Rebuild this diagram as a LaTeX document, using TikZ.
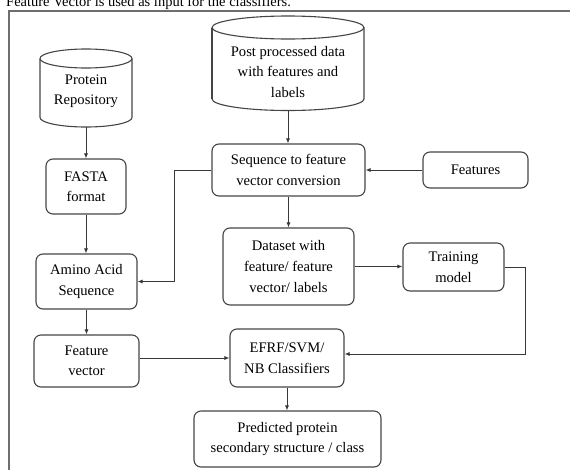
\documentclass[tikz,border=0pt]{standalone}
\usepackage{fontspec}
\setmainfont{Liberation Serif}
\usetikzlibrary{arrows.meta}
\definecolor{boxc}{HTML}{454545}
\definecolor{arrc}{HTML}{383838}
\definecolor{framec}{HTML}{6E6E6E}
\newcommand{\bxfont}{\fontsize{14.6}{20.5}\selectfont}
\newcommand{\ttlfont}{\fontsize{14.5}{16}\selectfont}
\begin{document}
\begin{tikzpicture}[x=1pt,y=-1pt,
  box/.style={draw=boxc, line width=1.1pt, rounded corners=7pt, align=center, inner sep=0pt, font=\bxfont},
  txt/.style={align=center, inner sep=0pt, font=\bxfont},
  cyl/.style={draw=boxc, line width=1.1pt},
  arr/.style={draw=arrc, line width=0.8pt, -{Latex[length=5pt,width=4pt]}},
  frame/.style={draw=framec, line width=1.3pt}]
\useasboundingbox (0,0) rectangle (570,469);
\clip (0,0) rectangle (570,469);
% outer frame and cut title
\draw[frame] (9,480) -- (9,11) -- (580,11);
\node[anchor=base west, inner sep=0pt, font=\ttlfont] (title) at (6,6.5) {Feature Vector is used as input for the classifiers.};
% cylinders
\draw[cyl] (40,58.5) -- (40,117.5) .. controls (40,122.75) and (60.6,127) .. (86,127) .. controls (111.4,127) and (132,122.75) .. (132,117.5) -- (132,58.5);
\draw[cyl] (86,58.5) ellipse [x radius=46pt, y radius=9.5pt];
\node[txt] (pr) at (86,91) {Protein\\Repository};
\coordinate (prb) at (86,127);
\draw[cyl] (212,99) .. controls (212,105.35) and (246,110.5) .. (288,110.5) .. controls (330,110.5) and (364,105.35) .. (364,99) -- (364,27.5);
\draw[cyl] (212,99) -- (212,27.5);
\draw[cyl] (288,27.5) ellipse [x radius=76pt, y radius=11.5pt];
\node[txt] (post) at (288,72) {Post processed data\\with features and\\labels};
\coordinate (postb) at (288,110.5);
% boxes
\node[box, minimum width=80pt, minimum height=55pt] (fasta) at (86,186.5) {FASTA\\format};
\node[box, minimum width=101pt, minimum height=55pt] (amino) at (86.5,281.5) {Amino Acid\\Sequence};
\node[box, minimum width=105pt, minimum height=52pt] (fv) at (86.5,361) {Feature\\vector};
\node[box, minimum width=153pt, minimum height=52pt] (seq) at (288.5,170) {Sequence to feature\\vector conversion};
\node[box, minimum width=105pt, minimum height=36pt] (feat) at (475.5,170) {Features};
\node[box, minimum width=131pt, minimum height=77pt] (ds) at (288.5,266.5) {Dataset with\\feature/ feature\\vector/ labels};
\node[box, minimum width=101pt, minimum height=48pt] (tr) at (453.5,267) {Training\\model};
\node[box, minimum width=114pt, minimum height=58pt] (efrf) at (287,358) {EFRF/SVM/\\NB Classifiers};
\node[box, minimum width=187pt, minimum height=56pt] (pred) at (287.5,439) {Predicted protein\\secondary structure / class};
% connectors
\draw[arr] (prb) -- (prb |- fasta.north);
\draw[arr] (fasta.south) -- (fasta.south |- amino.north);
\draw[arr] (amino.south) -- (amino.south |- fv.north);
\draw[arr] (postb) -- (postb |- seq.north);
\draw[arr] (feat.west) -- (seq.east);
\draw[arr] (seq.west) -- ++(-37,0) |- (amino.east);
\draw[arr] (seq.south) -- (seq.south |- ds.north);
\draw[arr] (ds.east) -- (ds.east -| tr.west);
\draw[arr] (tr.east) -- ++(21,0) |- ([yshift=4pt]efrf.east);
\draw[arr] ([yshift=3pt]fv.east) -- (efrf.west);
\draw[arr] (efrf.south) -- (efrf.south |- pred.north);
\end{tikzpicture}
\end{document}
